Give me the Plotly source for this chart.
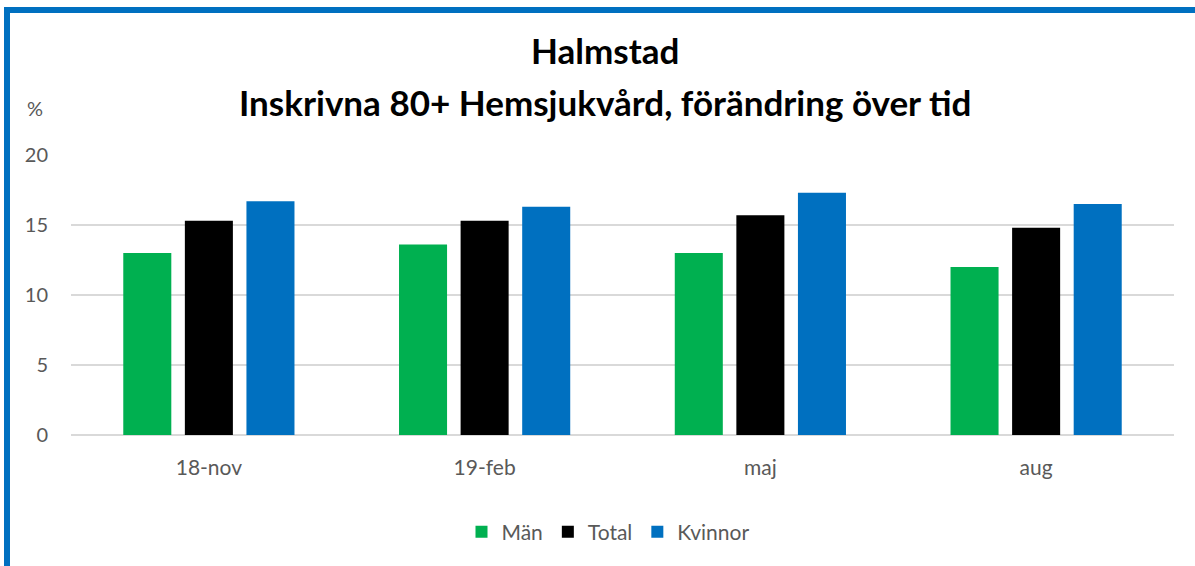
import plotly.graph_objects as go

categories = ["18-nov", "19-feb", "maj", "aug"]
man = [13.0, 13.6, 13.0, 12.0]
total = [15.3, 15.3, 15.7, 14.8]
kvinnor = [16.7, 16.3, 17.3, 16.5]
series_names = ["Män", "Total", "Kvinnor"]
colors = ["#00B050", "#000000", "#0070C0"]
y_ticks = [0, 5, 10, 15, 20]
title_lines = ["Halmstad", "Inskrivna 80+ Hemsjukvård, förändring över tid"]

W, H = 1195, 566
L, R, T, B = 71, 21, 155, 131
pw, ph = W - L - R, H - T - B

def px(x):
    return (x - L) / pw

def py(y):
    return (H - B - y) / ph

FONT = "Lato"
GRAY = "#595959"

fig = go.Figure()
for name, vals, c in zip(series_names, [man, total, kvinnor], colors):
    fig.add_trace(go.Bar(x=categories, y=vals, name=name, marker_color=c,
                         marker_line_width=0))

annotations = [dict(text="%", x=px(35), y=py(108), xref="paper", yref="paper",
                    xanchor="center", yanchor="middle",
                    showarrow=False, font=dict(size=20, color=GRAY))]
for line, yc in zip(title_lines, [50, 102]):
    annotations.append(dict(text="<b>" + line + "</b>", x=px(605), y=py(yc),
                            xref="paper", yref="paper", xanchor="center",
                            yanchor="middle", showarrow=False,
                            font=dict(family=FONT, size=35, color="#000000")))

fig.update_layout(
    width=W, height=H,
    margin=dict(l=L, r=R, t=T, b=B),
    paper_bgcolor="white", plot_bgcolor="white",
    barmode="group", bargap=0.33, bargroupgap=0.22,
    font=dict(family=FONT, color=GRAY, size=21),
    xaxis=dict(showgrid=False, showline=False, ticks="", ticklabelstandoff=18,
               tickfont=dict(size=21, color=GRAY)),
    yaxis=dict(range=[0, 20], tickvals=y_ticks, showgrid=True, gridcolor="#D9D9D9",
               gridwidth=1.5, zeroline=True, zerolinecolor="#D9D9D9", zerolinewidth=1.5,
               ticks="", ticklabelstandoff=22, tickfont=dict(size=20, color=GRAY)),
    legend=dict(orientation="h", x=px(608), xanchor="center", y=py(532), yanchor="middle",
                font=dict(size=21, color=GRAY), itemwidth=30, traceorder="normal"),
    showlegend=True,
    annotations=annotations,
    shapes=[dict(type="rect", xref="paper", yref="paper",
                 x0=px(7), x1=px(1210), y0=py(590), y1=py(10),
                 line=dict(color="#0070C0", width=6), layer="above")],
)

fig.write_html("out.html", config={"displayModeBar": False},
               post_script="document.body.style.margin='0';")
